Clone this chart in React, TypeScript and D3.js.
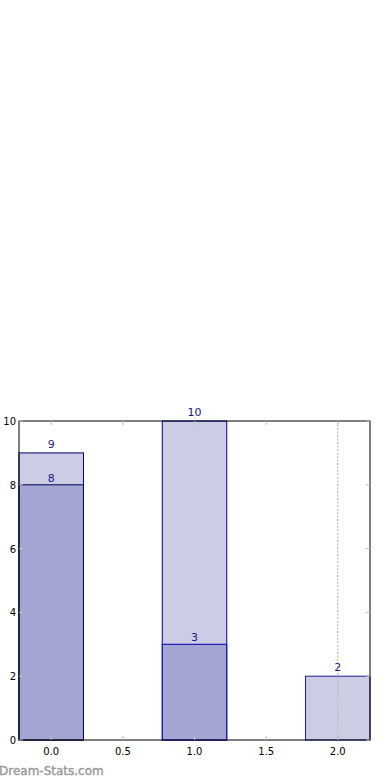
import React, { useEffect, useRef } from "react";
import * as d3 from "d3";

// values
const positions = [0, 1, 2];
const backValues = [9, 10, 2];
const frontValues = [8, 3, 0];
const backEdges = ["#000066", "#0000aa", "#1a1a99"];
const frontEdges = ["#000055", "#0000aa", "#1a1a99"];
const xTicks = [0, 0.5, 1, 1.5, 2];
const yTicks = [0, 2, 4, 6, 8, 10];
const markerX = 2;

const W = 390;
const H = 780;
const m = { left: 19, right: 20, top: 421, bottom: 40 };

export default function App() {
  const svgRef = useRef<SVGSVGElement>(null);

  useEffect(() => {
    const svg = d3.select(svgRef.current);
    svg.selectAll("*").remove();

    const x = d3.scaleLinear().domain([-0.225, 2.225]).range([m.left, W - m.right]);
    const y = d3.scaleLinear().domain([0, 10]).range([H - m.bottom, m.top]);
    const barW = x(0.45) - x(0);
    const font = "DejaVu Sans, sans-serif";

    const g = svg.append("g");

    // back bars
    g.selectAll(".back")
      .data(backValues)
      .join("rect")
      .attr("x", (d, i) => x(positions[i]) - barW / 2)
      .attr("y", (d) => y(d))
      .attr("width", barW)
      .attr("height", (d) => y(0) - y(d))
      .attr("fill", "#ccccE5")
      .attr("stroke", (d, i) => backEdges[i])
      .attr("stroke-width", 1);

    // front bars
    g.selectAll(".front")
      .data(frontValues.map((v, i) => ({ v, i })).filter((d) => d.v > 0))
      .join("rect")
      .attr("x", (d) => x(positions[d.i]) - barW / 2)
      .attr("y", (d) => y(d.v))
      .attr("width", barW)
      .attr("height", (d) => y(0) - y(d.v))
      .attr("fill", "#a3a5d3")
      .attr("stroke", (d) => frontEdges[d.i])
      .attr("stroke-width", 1);

    // marker line
    g.append("line")
      .attr("x1", x(markerX))
      .attr("x2", x(markerX))
      .attr("y1", y(10))
      .attr("y2", y(0))
      .attr("stroke", "#b4b4b4")
      .attr("stroke-width", 1)
      .attr("stroke-dasharray", "2,1.5");

    // value labels
    g.selectAll(".blab")
      .data(backValues)
      .join("text")
      .attr("x", (d, i) => x(positions[i]))
      .attr("y", (d) => y(d) - 5)
      .attr("text-anchor", "middle")
      .attr("font-family", font)
      .attr("font-size", 11)
      .attr("fill", "#1a1a80")
      .text((d) => d);

    g.selectAll(".flab")
      .data(frontValues.map((v, i) => ({ v, i })).filter((d) => d.v > 0))
      .join("text")
      .attr("x", (d) => x(positions[d.i]))
      .attr("y", (d) => y(d.v) - 3)
      .attr("text-anchor", "middle")
      .attr("font-family", font)
      .attr("font-size", 11)
      .attr("fill", "#1a1a80")
      .text((d) => d.v);

    // frame
    g.append("rect")
      .attr("x", m.left)
      .attr("y", m.top)
      .attr("width", W - m.left - m.right)
      .attr("height", H - m.top - m.bottom)
      .attr("fill", "none")
      .attr("stroke", "#000")
      .attr("stroke-width", 1);

    // ticks (inward, grey)
    const tick = "#bbbbbb";
    xTicks.forEach((t) => {
      g.append("line").attr("x1", x(t)).attr("x2", x(t)).attr("y1", y(0)).attr("y2", y(0) - 4).attr("stroke", tick);
      g.append("line").attr("x1", x(t)).attr("x2", x(t)).attr("y1", y(10)).attr("y2", y(10) + 4).attr("stroke", tick);
    });
    yTicks.forEach((t) => {
      g.append("line").attr("x1", m.left).attr("x2", m.left + 4).attr("y1", y(t)).attr("y2", y(t)).attr("stroke", tick);
      g.append("line").attr("x1", W - m.right).attr("x2", W - m.right - 4).attr("y1", y(t)).attr("y2", y(t)).attr("stroke", tick);
    });

    g.selectAll(".xl")
      .data(xTicks)
      .join("text")
      .attr("x", (d) => x(d))
      .attr("y", y(0) + 15)
      .attr("text-anchor", "middle")
      .attr("font-family", font)
      .attr("font-size", 10)
      .attr("fill", "#000")
      .text((d) => d3.format(".1f")(d));

    g.selectAll(".yl")
      .data(yTicks)
      .join("text")
      .attr("x", m.left - 3)
      .attr("y", (d) => y(d) + 4)
      .attr("text-anchor", "end")
      .attr("font-family", font)
      .attr("font-size", 10)
      .attr("fill", "#000")
      .text((d) => d);

    svg.append("text")
      .attr("x", -1)
      .attr("y", 775)
      .attr("font-family", font)
      .attr("font-size", 12)
      .attr("fill", "#999999")
      .attr("stroke", "#999999")
      .attr("stroke-width", 0.4)
      .text("Dream-Stats.com");
  }, []);

  return (
    <div style={{ position: "absolute", left: 0, top: 0 }}>
      <svg ref={svgRef} width={W} height={H} style={{ display: "block", background: "#fff" }} />
    </div>
  );
}
